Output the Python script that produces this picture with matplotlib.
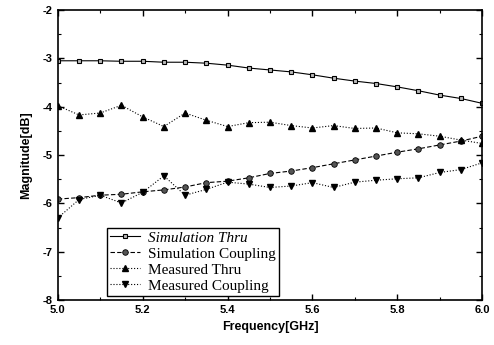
import numpy as np
import matplotlib
matplotlib.use('Agg')
import matplotlib.pyplot as plt
from matplotlib.ticker import MultipleLocator

freq = [5.0, 5.05, 5.1, 5.15, 5.2, 5.25, 5.3, 5.35, 5.4, 5.45, 5.5,
        5.55, 5.6, 5.65, 5.7, 5.75, 5.8, 5.85, 5.9, 5.95, 6.0]

sim_thru = [-3.05, -3.05, -3.05, -3.06, -3.06, -3.08, -3.08, -3.10, -3.14, -3.20, -3.24,
            -3.28, -3.34, -3.41, -3.47, -3.52, -3.59, -3.67, -3.76, -3.83, -3.93]
sim_coupling = [-5.91, -5.88, -5.83, -5.81, -5.76, -5.72, -5.66, -5.57, -5.54, -5.47, -5.38,
                -5.33, -5.26, -5.18, -5.10, -5.02, -4.94, -4.87, -4.79, -4.71, -4.61]
meas_thru = [-3.98, -4.17, -4.13, -3.97, -4.21, -4.41, -4.13, -4.28, -4.41, -4.33, -4.32,
             -4.39, -4.44, -4.39, -4.45, -4.44, -4.54, -4.56, -4.61, -4.69, -4.76]
meas_coupling = [-6.30, -5.92, -5.83, -5.99, -5.77, -5.43, -5.83, -5.71, -5.56, -5.60, -5.67,
                 -5.64, -5.57, -5.67, -5.56, -5.52, -5.49, -5.47, -5.36, -5.30, -5.16]

fig = plt.figure(figsize=(4.94, 3.45), dpi=100)
ax = fig.add_axes([0.117, 0.130, 0.859, 0.841])

ax.plot(freq, sim_thru, '-', color='black', lw=0.8, marker='s', ms=3.5,
        mfc='#bbbbbb', mec='black', mew=0.8, label='Simulation Thru')
ax.plot(freq, sim_coupling, '--', color='black', lw=0.8, marker='o', ms=4,
        mfc='#555555', mec='black', mew=0.6, dashes=(4, 2), label='Simulation Coupling')
ax.plot(freq, meas_thru, ':', color='black', lw=0.8, marker='^', ms=4.5,
        mfc='black', mec='black', label='Measured Thru')
ax.plot(freq, meas_coupling, ':', color='black', lw=0.8, marker='v', ms=4.5,
        mfc='black', mec='black', label='Measured Coupling')

ax.set_xlim(5.0, 6.0)
ax.set_ylim(-8, -2)
ax.xaxis.set_major_locator(MultipleLocator(0.2))
ax.xaxis.set_minor_locator(MultipleLocator(0.1))
ax.yaxis.set_major_locator(MultipleLocator(1))
ax.yaxis.set_minor_locator(MultipleLocator(0.5))
ax.set_xticklabels([f'{v:.1f}' for v in ax.get_xticks()])
ax.set_yticklabels([f'{v:.0f}' for v in ax.get_yticks()])
ax.tick_params(which='both', direction='in', top=True, right=True, labelsize=8)
ax.tick_params(which='major', length=4, width=1)
ax.tick_params(which='minor', length=2, width=0.8)
for lab in ax.get_xticklabels() + ax.get_yticklabels():
    lab.set_fontfamily('Liberation Sans')
    lab.set_fontweight('bold')
for s in ax.spines.values():
    s.set_linewidth(1.2)

ax.set_xlabel('Frequency[GHz]', fontsize=9, fontfamily='Liberation Sans', fontweight='bold')
ax.set_ylabel('Magnitude[dB]', fontsize=9, fontfamily='Liberation Sans', fontweight='bold',
              labelpad=8)

leg = ax.legend(loc='lower left', bbox_to_anchor=(0.115, 0.015), fancybox=False,
                edgecolor='black', framealpha=1, borderpad=0.2, labelspacing=0.15,
                handlelength=2.0, handletextpad=0.5, borderaxespad=0.0,
                prop={'family': 'Liberation Serif', 'size': 11})
leg.get_frame().set_linewidth(1.0)
leg.get_texts()[0].set_fontstyle('italic')

fig.savefig('out.png', dpi=100)
